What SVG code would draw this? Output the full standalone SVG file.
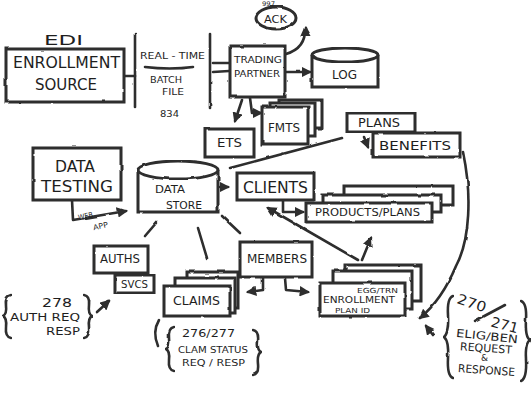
<svg xmlns="http://www.w3.org/2000/svg" width="531" height="411" viewBox="0 0 531 411">
<defs>
<style>
.b{fill:#fff;stroke:#2d2d2d;stroke-width:3}
.l{fill:none;stroke:#2d2d2d;stroke-width:2.6;stroke-linecap:round;stroke-linejoin:round}
.t{font-family:"DejaVu Sans","Liberation Sans",sans-serif;fill:#1e1e1e;text-anchor:start}
</style>
<filter id="rough" x="-5%" y="-5%" width="110%" height="110%">
<feTurbulence type="fractalNoise" baseFrequency="0.08" numOctaves="2" seed="3"/>
<feDisplacementMap in="SourceGraphic" scale="2.2" xChannelSelector="R" yChannelSelector="G"/>
</filter>
<marker id="ah" viewBox="0 0 10 10" refX="8" refY="5" markerWidth="4" markerHeight="4" orient="auto-start-reverse">
<path d="M0,0 L10,5 L0,10 z" fill="#2d2d2d"/>
</marker>
</defs>
<rect width="531" height="411" fill="#fff"/>

<g id="connectors" filter="url(#rough)">
<path class="l" d="M124,76 L135,76"/>
<line class="l" x1="135" y1="34" x2="135" y2="107"/>
<line class="l" x1="210" y1="34" x2="210" y2="107"/>
<path class="l" d="M145,67 Q170,70 193,67" stroke-width="3"/>
<path class="l" d="M229,63 L213,63"/>
<path class="l" d="M229,71 L213,72"/>
<path class="l" d="M286,54 Q306,48 305,28" marker-end="url(#ah)"/>
<path class="l" d="M285,72 L310,72" stroke-width="3.5" marker-end="url(#ah)"/>
<path class="l" d="M242,100 L235,121" marker-end="url(#ah)"/>
<path class="l" d="M250,98 L252,113 L261,113" marker-end="url(#ah)"/>
<path class="l" d="M342,138 L230,168" stroke-width="2.4"/>
<path class="l" d="M364,137 L368,147" marker-end="url(#ah)"/>
<path class="l" d="M463,152 C472,195 470,240 456,266 C446,290 432,308 420,318" marker-end="url(#ah)"/>
<path class="l" d="M433,335 L426,326" marker-end="url(#ah)"/>
<path class="l" d="M220,187 L228,187" marker-end="url(#ah)"/>
<path class="l" d="M283,200 L283,212 L303,212" marker-end="url(#ah)"/>
<path class="l" d="M358,260 L268,208" marker-end="url(#ah)"/>
<path class="l" d="M362,260 L371,238" marker-end="url(#ah)"/>
<path class="l" d="M72,200 L73,220 L126,211" marker-end="url(#ah)"/>
<path class="l" d="M157,222 L145,236"/>
<path class="l" d="M198,228 L207,258"/>
<path class="l" d="M222,216 L240,233"/>
<path class="l" d="M263,278 L263,290 L248,292" marker-end="url(#ah)"/>
<path class="l" d="M285,278 L286,290 L308,292" marker-end="url(#ah)"/>
<path class="l" d="M97,312 L109,301" marker-end="url(#ah)"/>
<path class="l" d="M159,320 Q152,332 158,346"/>
<path class="l" d="M475,321 L505,305"/>
</g>

<g id="edi">
<text class="t" x="44" y="45" font-size="14" textLength="39" lengthAdjust="spacingAndGlyphs">EDI</text>
</g>
<g id="enrollment-source">
<rect class="b" x="6" y="49" width="118" height="53" filter="url(#rough)"/>
<text class="t" x="13" y="68" font-size="15" textLength="107" lengthAdjust="spacingAndGlyphs">ENROLLMENT</text>
<text class="t" x="35" y="90" font-size="16" textLength="62" lengthAdjust="spacingAndGlyphs">SOURCE</text>
</g>
<g id="transport">
<text class="t" x="140" y="59" font-size="9.5" textLength="65" lengthAdjust="spacingAndGlyphs">REAL - TIME</text>
<text class="t" x="150" y="83" font-size="9" textLength="32" lengthAdjust="spacingAndGlyphs">BATCH</text>
<text class="t" x="162" y="95" font-size="9" textLength="22" lengthAdjust="spacingAndGlyphs">FILE</text>
<text class="t" x="160" y="117" font-size="8.5" textLength="19" lengthAdjust="spacingAndGlyphs">834</text>
</g>
<g id="trading-partner">
<rect class="b" x="230" y="46" width="55" height="51" filter="url(#rough)"/>
<text class="t" x="234" y="63" font-size="9.5" textLength="48" lengthAdjust="spacingAndGlyphs">TRADING</text>
<text class="t" x="234" y="77" font-size="9.5" textLength="46" lengthAdjust="spacingAndGlyphs">PARTNER</text>
</g>
<g id="ack">
<ellipse class="b" cx="276" cy="18" rx="20" ry="11" stroke-width="2.5" filter="url(#rough)"/>
<text class="t" x="264" y="23" font-size="11" textLength="23" lengthAdjust="spacingAndGlyphs">ACK</text>
<text class="t" x="262" y="6" font-size="6.5" textLength="13" lengthAdjust="spacingAndGlyphs">997</text>
</g>
<g id="log">
<path class="b" d="M312,55 L312,87 L378,87 L378,55" filter="url(#rough)"/>
<ellipse class="b" cx="345" cy="55" rx="33" ry="7" filter="url(#rough)"/>
<text class="t" x="332" y="79" font-size="12" textLength="25" lengthAdjust="spacingAndGlyphs">LOG</text>
</g>
<g id="fmts">
<g filter="url(#rough)">
<rect class="b" x="279" y="100" width="43" height="28"/>
<rect class="b" x="270" y="103" width="45" height="33"/>
<rect class="b" x="262" y="107" width="46" height="37"/>
</g>
<text class="t" x="268" y="132" font-size="12" textLength="32" lengthAdjust="spacingAndGlyphs">FMTS</text>
</g>
<g id="ets">
<rect class="b" x="205" y="129" width="49" height="28" filter="url(#rough)"/>
<text class="t" x="217" y="147" font-size="12" textLength="25" lengthAdjust="spacingAndGlyphs">ETS</text>
</g>
<g id="plans">
<rect class="b" x="347" y="113" width="68" height="19" filter="url(#rough)"/>
<text class="t" x="358" y="127" font-size="13" textLength="42" lengthAdjust="spacingAndGlyphs">PLANS</text>
</g>
<g id="benefits">
<rect class="b" x="373" y="133" width="87" height="24" filter="url(#rough)"/>
<text class="t" x="379" y="150" font-size="13" textLength="72" lengthAdjust="spacingAndGlyphs">BENEFITS</text>
</g>
<g id="data-testing">
<rect class="b" x="33" y="148" width="88" height="52" filter="url(#rough)"/>
<text class="t" x="55" y="172" font-size="15" textLength="40" lengthAdjust="spacingAndGlyphs">DATA</text>
<text class="t" x="41" y="192" font-size="15" textLength="72" lengthAdjust="spacingAndGlyphs">TESTING</text>
</g>
<g id="web-app">
<text class="t" x="78" y="219" font-size="7.5" transform="rotate(-12 84 216)" textLength="15" lengthAdjust="spacingAndGlyphs">WEB</text>
<text class="t" x="93" y="229" font-size="7.5" transform="rotate(-12 99 226)" textLength="15" lengthAdjust="spacingAndGlyphs">APP</text>
</g>
<g id="data-store">
<path class="b" d="M138,170 L138,212 L218,212 L218,170" filter="url(#rough)"/>
<ellipse class="b" cx="178" cy="170" rx="40" ry="9" filter="url(#rough)"/>
<text class="t" x="155" y="193" font-size="11" textLength="30" lengthAdjust="spacingAndGlyphs">DATA</text>
<text class="t" x="166" y="209" font-size="11" textLength="36" lengthAdjust="spacingAndGlyphs">STORE</text>
</g>
<g id="clients">
<rect class="b" x="237" y="173" width="77" height="27" filter="url(#rough)"/>
<text class="t" x="243" y="193" font-size="15" textLength="65" lengthAdjust="spacingAndGlyphs">CLIENTS</text>
</g>
<g id="products-plans">
<g filter="url(#rough)">
<rect class="b" x="344" y="186" width="109" height="19"/>
<rect class="b" x="323" y="195" width="118" height="17"/>
<rect class="b" x="306" y="203" width="126" height="19"/>
</g>
<text class="t" x="315" y="216" font-size="11" textLength="105" lengthAdjust="spacingAndGlyphs">PRODUCTS/PLANS</text>
</g>
<g id="auths">
<rect class="b" x="94" y="246" width="54" height="27" filter="url(#rough)"/>
<text class="t" x="100" y="263" font-size="12" textLength="40" lengthAdjust="spacingAndGlyphs">AUTHS</text>
</g>
<g id="svcs">
<rect class="b" x="115" y="275" width="39" height="18" filter="url(#rough)"/>
<text class="t" x="121" y="288" font-size="10.5" textLength="27" lengthAdjust="spacingAndGlyphs">SVCS</text>
</g>
<g id="claims">
<g filter="url(#rough)">
<rect class="b" x="187" y="272" width="51" height="36"/>
<rect class="b" x="175" y="278" width="60" height="35"/>
<rect class="b" x="164" y="286" width="66" height="30"/>
</g>
<text class="t" x="173" y="305" font-size="12" textLength="47" lengthAdjust="spacingAndGlyphs">CLAIMS</text>
</g>
<g id="members">
<rect class="b" x="240" y="242" width="72" height="35" filter="url(#rough)"/>
<text class="t" x="247" y="263" font-size="12" textLength="60" lengthAdjust="spacingAndGlyphs">MEMBERS</text>
</g>
<g id="enrollment">
<g filter="url(#rough)">
<rect class="b" x="345" y="265" width="76" height="36"/>
<rect class="b" x="333" y="271" width="79" height="38"/>
<rect class="b" x="320" y="283" width="85" height="33"/>
</g>
<text class="t" x="357" y="293" font-size="7" textLength="41" lengthAdjust="spacingAndGlyphs">EGG/TRN</text>
<text class="t" x="323" y="303" font-size="9.5" textLength="72" lengthAdjust="spacingAndGlyphs">ENROLLMENT</text>
<text class="t" x="335" y="313" font-size="7" textLength="35" lengthAdjust="spacingAndGlyphs">PLAN ID</text>
</g>
<g id="auth-278">
<path class="l" d="M11,295 Q5,296 6,305 Q7,314 3,316 Q7,318 6,327 Q5,337 11,338" filter="url(#rough)"/>
<path class="l" d="M84,295 Q90,296 89,305 Q88,314 92,316 Q88,318 89,327 Q90,337 84,338" filter="url(#rough)"/>
<text class="t" x="42" y="307" font-size="12" textLength="30" lengthAdjust="spacingAndGlyphs">278</text>
<text class="t" x="10" y="321" font-size="10.5" textLength="70" lengthAdjust="spacingAndGlyphs">AUTH REQ</text>
<text class="t" x="46" y="335" font-size="10.5" textLength="34" lengthAdjust="spacingAndGlyphs">RESP</text>
</g>
<g id="claim-status">
<path class="l" d="M174,327 Q168,328 169,338 Q170,347 166,349 Q170,351 169,360 Q168,370 174,371" filter="url(#rough)"/>
<path class="l" d="M253,330 Q259,331 258,341 Q257,350 261,352 Q257,354 258,364 Q259,374 253,375" filter="url(#rough)"/>
<text class="t" x="182" y="337" font-size="11" textLength="53" lengthAdjust="spacingAndGlyphs">276/277</text>
<text class="t" x="178" y="353" font-size="9" textLength="70" lengthAdjust="spacingAndGlyphs">CLAM STATUS</text>
<text class="t" x="182" y="366" font-size="9" textLength="63" lengthAdjust="spacingAndGlyphs">REQ / RESP</text>
</g>
<g id="elig-270-271">
<path class="l" d="M453,296 Q447,298 448,315 Q449,333 444,337 Q449,341 448,358 Q447,376 453,378" filter="url(#rough)"/>
<path class="l" d="M521,301 Q527,303 526,320 Q525,337 530,340 Q525,343 526,360 Q527,378 521,381" filter="url(#rough)"/>
<text class="t" x="457" y="308" font-size="14" textLength="30" lengthAdjust="spacingAndGlyphs" transform="rotate(18 472 302)">270</text>
<text class="t" x="491" y="330" font-size="14" textLength="28" lengthAdjust="spacingAndGlyphs" transform="rotate(15 505 324)">271</text>
<text class="t" x="456" y="340" font-size="11" textLength="62" lengthAdjust="spacingAndGlyphs" transform="rotate(6 487 336)">ELIG/BEN</text>
<text class="t" x="460" y="352" font-size="11" textLength="52" lengthAdjust="spacingAndGlyphs" transform="rotate(4 486 348)">REQUEST</text>
<text class="t" x="481" y="361" font-size="8" textLength="7" lengthAdjust="spacingAndGlyphs">&amp;</text>
<text class="t" x="458" y="374" font-size="11" textLength="57" lengthAdjust="spacingAndGlyphs" transform="rotate(4 486 370)">RESPONSE</text>
</g>
</svg>
